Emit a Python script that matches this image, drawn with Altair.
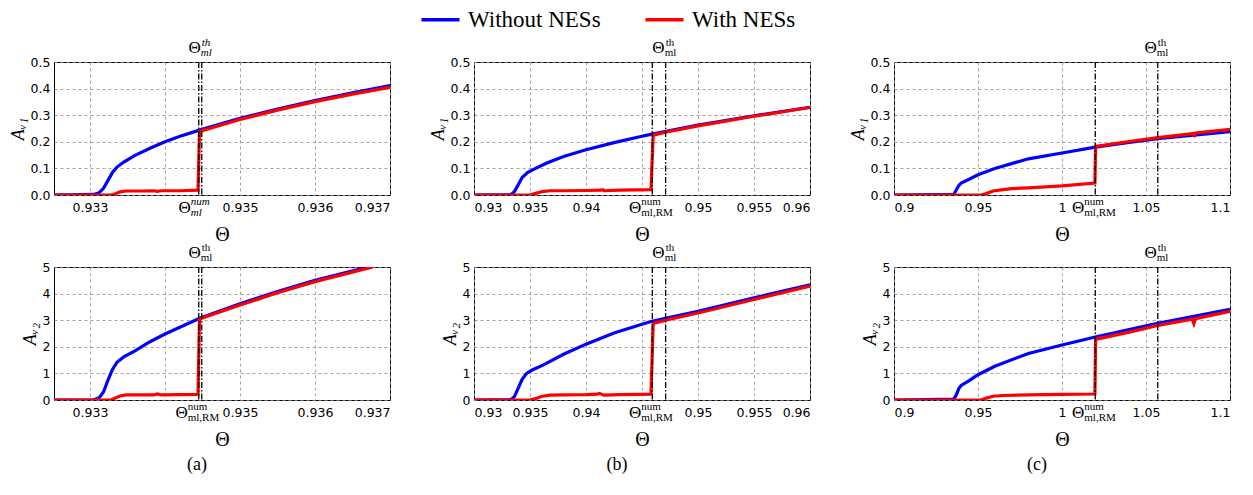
import altair as alt
import pandas as pd

SERIES = ["Without NESs", "With NESs"]
COLORS = ["#0000ff", "#ff0000"]
CAPTIONS = ["(a)", "(b)", "(c)"]

# ---------------- panel (a) ----------------
A_XDOM = [0.93252, 0.937]
A_XTICKS = [0.933, 0.934, 0.935, 0.936, 0.937]
A_HIDE = 0.934
A_LINES = [0.93445, 0.93449]

A1_BLUE_X = [0.93252, 0.93305, 0.93312, 0.93318, 0.93324, 0.93330, 0.93336, 0.93345, 0.93360, 0.93380, 0.93400, 0.93420, 0.93445, 0.93500, 0.93550, 0.93600, 0.93650, 0.93700]
A1_BLUE_Y = [0, 0.002, 0.008, 0.025, 0.055, 0.085, 0.105, 0.124, 0.149, 0.176, 0.200, 0.221, 0.243, 0.288, 0.323, 0.355, 0.384, 0.411]
A1_RED_X = [0.93252, 0.93328, 0.93334, 0.93340, 0.93348, 0.93370, 0.93385, 0.93390, 0.93395, 0.93420, 0.93444, 0.93446, 0.93500, 0.93550, 0.93600, 0.93650, 0.93700]
A1_RED_Y = [0, 0, 0.005, 0.012, 0.015, 0.015, 0.016, 0.014, 0.016, 0.016, 0.018, 0.239, 0.284, 0.319, 0.351, 0.379, 0.405]

A2_BLUE_X = [0.93252, 0.93305, 0.93312, 0.93318, 0.93324, 0.93330, 0.93336, 0.93345, 0.93360, 0.93380, 0.93400, 0.93447, 0.93500, 0.93550, 0.93600, 0.93671]
A2_BLUE_Y = [0, 0.01, 0.08, 0.3, 0.75, 1.15, 1.42, 1.62, 1.85, 2.19, 2.48, 3.08, 3.62, 4.08, 4.5, 5.0]
A2_RED_X = [0.93252, 0.93328, 0.93334, 0.93340, 0.93348, 0.93385, 0.93390, 0.93395, 0.93420, 0.93444, 0.93446, 0.93500, 0.93550, 0.93600, 0.93677]
A2_RED_Y = [0, 0, 0.08, 0.15, 0.19, 0.19, 0.23, 0.19, 0.2, 0.21, 3.05, 3.57, 4.03, 4.45, 5.0]

# ---------------- panel (b) ----------------
B_XDOM = [0.93, 0.96]
B_XTICKS = [0.93, 0.935, 0.94, 0.945, 0.95, 0.955, 0.96]
B_HIDE = 0.945
B_LINES = [0.94592, 0.94711]

B1_BLUE_X = [0.93, 0.9333, 0.9336, 0.9339, 0.9343, 0.9348, 0.9355, 0.9365, 0.938, 0.94, 0.9425, 0.945, 0.9459, 0.95, 0.955, 0.96]
B1_BLUE_Y = [0, 0.002, 0.012, 0.035, 0.066, 0.085, 0.1, 0.12, 0.145, 0.170, 0.197, 0.221, 0.229, 0.263, 0.298, 0.330]
B1_RED_X = [0.93, 0.9350, 0.9355, 0.9361, 0.9368, 0.938, 0.94, 0.9413, 0.9415, 0.9416, 0.943, 0.9458, 0.9460, 0.9471, 0.95, 0.955, 0.96]
B1_RED_Y = [0, 0, 0.006, 0.013, 0.016, 0.016, 0.017, 0.018, 0.02, 0.016, 0.018, 0.02, 0.225, 0.236, 0.260, 0.296, 0.329]

B2_BLUE_X = [0.93, 0.9333, 0.9336, 0.9339, 0.9343, 0.9347, 0.9352, 0.9362, 0.938, 0.94, 0.9425, 0.945, 0.9459, 0.9471, 0.95, 0.955, 0.96]
B2_BLUE_Y = [0, 0.02, 0.12, 0.4, 0.78, 1.0, 1.13, 1.32, 1.72, 2.1, 2.52, 2.85, 2.96, 3.07, 3.33, 3.84, 4.33]
B2_RED_X = [0.93, 0.9350, 0.9355, 0.9360, 0.9368, 0.938, 0.94, 0.9410, 0.9412, 0.9416, 0.943, 0.9458, 0.9460, 0.9471, 0.95, 0.955, 0.96]
B2_RED_Y = [0, 0, 0.05, 0.13, 0.18, 0.19, 0.2, 0.22, 0.25, 0.18, 0.2, 0.22, 2.88, 3.0, 3.27, 3.78, 4.28]

# ---------------- panel (c) ----------------
C_XDOM = [0.9, 1.1]
C_XTICKS = [0.9, 0.95, 1.0, 1.05, 1.1]
C_HIDE = -1.0
C_LINES = [1.0198, 1.0570]

C1_BLUE_X = [0.9, 0.9355, 0.9370, 0.9385, 0.9400, 0.9450, 0.95, 0.96, 0.98, 1.0, 1.0198, 1.04, 1.057, 1.08, 1.1]
C1_BLUE_Y = [0, 0.002, 0.018, 0.035, 0.045, 0.060, 0.076, 0.100, 0.136, 0.158, 0.180, 0.198, 0.212, 0.226, 0.238]
C1_RED_X = [0.9, 0.952, 0.955, 0.959, 0.965, 0.97, 0.98, 1.0, 1.0196, 1.0200, 1.04, 1.057, 1.0785, 1.079, 1.0795, 1.1]
C1_RED_Y = [0, 0, 0.006, 0.015, 0.02, 0.024, 0.027, 0.034, 0.045, 0.183, 0.201, 0.216, 0.231, 0.226, 0.233, 0.247]

C2_BLUE_X = [0.9, 0.9355, 0.9370, 0.9385, 0.9400, 0.9450, 0.95, 0.96, 0.98, 1.0, 1.0198, 1.04, 1.057, 1.08, 1.1]
C2_BLUE_Y = [0, 0.03, 0.18, 0.42, 0.55, 0.74, 0.95, 1.27, 1.75, 2.07, 2.37, 2.65, 2.88, 3.16, 3.41]
C2_RED_X = [0.9, 0.952, 0.955, 0.959, 0.965, 0.98, 1.0, 1.0196, 1.0200, 1.04, 1.057, 1.0775, 1.0785, 1.0795, 1.1]
C2_RED_Y = [0, 0, 0.07, 0.14, 0.17, 0.19, 0.21, 0.225, 2.28, 2.55, 2.8, 3.04, 2.87, 3.06, 3.33]

# y axes
Y1_DOM = [0, 0.5]
Y1_TICKS = [0, 0.1, 0.2, 0.3, 0.4, 0.5]
Y2_DOM = [0, 5]
Y2_TICKS = [0, 1, 2, 3, 4, 5]
Y1_TITLE = "A\u1d65\u2081"
Y2_TITLE = "A\u1d65\u2082"

W, H = 336, 133
SERIF = "Liberation Serif"

color_scale = alt.Scale(domain=SERIES, range=COLORS)
legend = alt.Legend(
    title=None, orient="none", legendX=375, legendY=-54, direction="horizontal",
    symbolType="M-3.8,0H3.8", symbolSize=100, symbolStrokeWidth=3.5,
    labelFont=SERIF, labelFontSize=23, labelColor="black", labelOffset=16,
    columnPadding=37, labelLimit=300,
)


def panel(bx, by, rx, ry, xdom, xticks, hide, xfmt, ydom, yticks, yfmt, ytitle,
          lines, th_italic, num_sub, num_dx, caption=None):
    blue = pd.DataFrame({"x": bx, "y": by, "s": SERIES[0]})
    red = pd.DataFrame({"x": rx, "y": ry, "s": SERIES[1]})
    xs = alt.Scale(domain=xdom, nice=False, zero=False)
    ys = alt.Scale(domain=ydom, nice=False, zero=False)
    xax = alt.Axis(values=xticks, format=xfmt, title="\u0398", titleFontSize=20,
                   titlePadding=11, labelPadding=6,
                   labelExpr=f"abs(datum.value - {hide}) < 1e-7 ? '' : datum.label")
    yax = alt.Axis(values=yticks, format=yfmt, title=ytitle, titleFontSize=18,
                   titleFontStyle="italic", titlePadding=3, labelPadding=4)

    def line(df):
        return alt.Chart(df).mark_line(strokeWidth=3.2, clip=True).encode(
            x=alt.X("x:Q", scale=xs, axis=xax),
            y=alt.Y("y:Q", scale=ys, axis=yax),
            color=alt.Color("s:N", scale=color_scale, legend=legend),
        )

    ldf = pd.DataFrame({"x": lines})
    rules = alt.Chart(ldf).mark_rule(color="black", strokeWidth=1.3,
                                     strokeDash=[6, 2, 1.5, 2]).encode(x="x:Q")

    th = pd.DataFrame({"x": [lines[1]], "t": ["\u0398"], "sup": ["th"], "sub": ["ml"]})
    num = pd.DataFrame({"x": [lines[0]], "t": ["\u0398"], "sup": ["num"], "sub": [num_sub]})
    st = "italic" if th_italic else "normal"
    texts = [
        alt.Chart(th).mark_text(font=SERIF, fontSize=17, align="right", baseline="middle", dx=-1)
        .encode(x="x:Q", y=alt.value(-14), text="t:N"),
        alt.Chart(th).mark_text(font=SERIF, fontSize=11, align="left", baseline="middle", dx=0, dy=-5,
                                fontStyle=st).encode(x="x:Q", y=alt.value(-14), text="sup:N"),
        alt.Chart(th).mark_text(font=SERIF, fontSize=11, align="left", baseline="middle", dx=-1, dy=5,
                                fontStyle=st).encode(x="x:Q", y=alt.value(-14), text="sub:N"),
        alt.Chart(num).mark_text(font=SERIF, fontSize=17, align="right", baseline="middle", dx=num_dx)
        .encode(x="x:Q", y=alt.value(H + 13), text="t:N"),
        alt.Chart(num).mark_text(font=SERIF, fontSize=11, align="left", baseline="middle", dx=num_dx, dy=-6,
                                 fontStyle=st).encode(x="x:Q", y=alt.value(H + 13), text="sup:N"),
        alt.Chart(num).mark_text(font=SERIF, fontSize=11, align="left", baseline="middle", dx=num_dx, dy=5,
                                 fontStyle=st).encode(x="x:Q", y=alt.value(H + 13), text="sub:N"),
    ]
    layers = [line(blue), line(red), rules] + texts
    if caption is not None:
        cap = pd.DataFrame({"c": [caption]})
        layers.append(alt.Chart(cap).mark_text(font=SERIF, fontSize=18, align="center", baseline="middle")
                      .encode(x=alt.value(143), y=alt.value(H + 65), text="c:N"))
    return alt.layer(*layers).properties(width=W, height=H)


a1 = panel(A1_BLUE_X, A1_BLUE_Y, A1_RED_X, A1_RED_Y, A_XDOM, A_XTICKS, A_HIDE, ".3~f",
           Y1_DOM, Y1_TICKS, ".1f", Y1_TITLE, A_LINES, True, "ml", -8)
b1 = panel(B1_BLUE_X, B1_BLUE_Y, B1_RED_X, B1_RED_Y, B_XDOM, B_XTICKS, B_HIDE, ".3~f",
           Y1_DOM, Y1_TICKS, ".1f", Y1_TITLE, B_LINES, False, "ml,RM", -11)
c1 = panel(C1_BLUE_X, C1_BLUE_Y, C1_RED_X, C1_RED_Y, C_XDOM, C_XTICKS, C_HIDE, ".2~f",
           Y1_DOM, Y1_TICKS, ".1f", Y1_TITLE, C_LINES, False, "ml,RM", -11)
a2 = panel(A2_BLUE_X, A2_BLUE_Y, A2_RED_X, A2_RED_Y, A_XDOM, A_XTICKS, A_HIDE, ".3~f",
           Y2_DOM, Y2_TICKS, "d", Y2_TITLE, A_LINES, False, "ml,RM", -11, CAPTIONS[0])
b2 = panel(B2_BLUE_X, B2_BLUE_Y, B2_RED_X, B2_RED_Y, B_XDOM, B_XTICKS, B_HIDE, ".3~f",
           Y2_DOM, Y2_TICKS, "d", Y2_TITLE, B_LINES, False, "ml,RM", -11, CAPTIONS[1])
c2 = panel(C2_BLUE_X, C2_BLUE_Y, C2_RED_X, C2_RED_Y, C_XDOM, C_XTICKS, C_HIDE, ".2~f",
           Y2_DOM, Y2_TICKS, "d", Y2_TITLE, C_LINES, False, "ml,RM", -11, CAPTIONS[2])

chart = (
    alt.concat(a1, b1, c1, a2, b2, c2, columns=3,
               spacing=alt.RowColnumber(row=72, column=84), bounds="flush")
    .properties(padding={"left": 0, "top": 0, "right": 5, "bottom": 5})
    .configure_view(stroke="black", strokeWidth=1)
    .configure_axis(grid=True, gridColor="#8a8a8a", gridDash=[3, 3], gridWidth=0.8,
                    domain=False, ticks=False, labelFont="DejaVu Sans", labelFontSize=12.5,
                    labelColor="black", titleFont=SERIF, titleFontWeight="normal", titleColor="black")
)

chart.save("out.html", embed_options={"renderer": "svg", "actions": False})
